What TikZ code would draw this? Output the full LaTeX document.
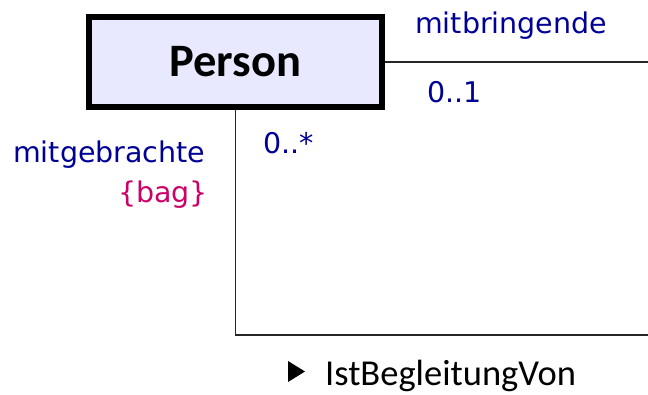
\documentclass[tikz,border=0pt]{standalone}
\usepackage{fontspec}
\setmainfont{Carlito}
\newfontfamily\rolefont{DejaVu Sans}
\usepackage{tikz}

\begin{document}
\begin{tikzpicture}[x=1pt,y=-1pt]
% Colors
\definecolor{classFill}{RGB}{232,232,255}
\definecolor{roleColor}{RGB}{0,0,150}
\definecolor{propColor}{RGB}{204,0,102}
\tikzset{
  classbox/.style={draw=black,line width=6pt,fill=classFill,
    minimum width=293pt,minimum height=90pt,inner sep=0pt,
    font=\fontsize{46.5}{50}\selectfont\bfseries},
  assoc/.style={draw=black!85,line width=1.4pt},
  role/.style={anchor=base west,inner sep=0pt,text=roleColor,
    font=\rolefont\fontsize{28.5}{32}\selectfont},
}
\useasboundingbox (0,0) rectangle (648,394);
% Class and reflexive association
\node[classbox] (person) at (235.5,62) {Person};
\coordinate (endA) at (648,62);   % mitbringende end
\coordinate (bend) at (235.5,335);
\coordinate (endB) at (648,335);  % mitgebrachte end
\draw[assoc] (person.east) -- (endA);
\draw[assoc] (person.south) -- (bend) -- (endB);
% Role names and multiplicities
\node[role] (roleA) at (415,33)  {mitbringende};
\node[role] (multA) at (427,102) {0..1};
\node[role] (roleB) at (13,162)  {mitgebrachte};
\node[role] (multB) at (263,153) {0..*};
\node[role,text=propColor] (bag) at (118,202) {\{bag\}};
% Association name
\fill (288,361) -- (305,371.5) -- (288,382) -- cycle;
\node[anchor=base west,inner sep=0pt,font=\fontsize{36.5}{40}\selectfont] (assocname) at (325,385.5)
  {IstBegleitungVon};
\end{tikzpicture}
\end{document}
